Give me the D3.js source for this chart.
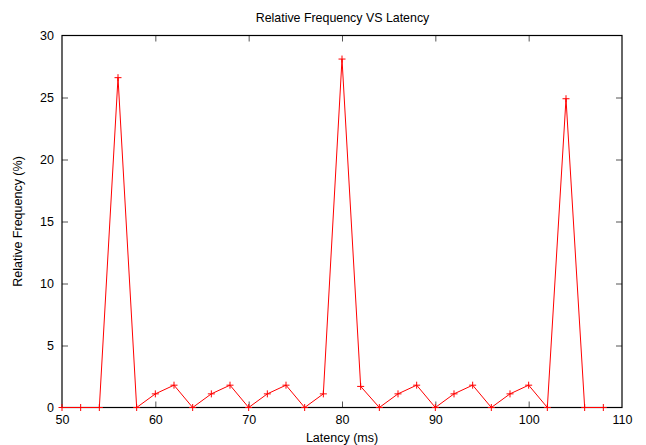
<!DOCTYPE html>
<html>
<head>
<meta charset="utf-8">
<script src="https://cdn.jsdelivr.net/npm/d3@7"></script>
<style>
  html, body { margin: 0; padding: 0; background: #fff; }
  svg text { font-family: "Liberation Sans", Arial, sans-serif; fill: #000; }
</style>
</head>
<body>
<svg id="chart" width="646" height="445"></svg>
<script>
// Latency bins (ms) and their relative frequency (%)
const latency = [50, 52, 54, 56, 58, 60, 62, 64, 66, 68, 70, 72, 74, 76, 78,
                 80, 82, 84, 86, 88, 90, 92, 94, 96, 98, 100, 102, 104, 106, 108];
const frequency = [0, 0, 0, 26.6, 0, 1.1, 1.8, 0, 1.1, 1.8, 0, 1.1, 1.8, 0, 1.1,
                   28.1, 1.7, 0, 1.1, 1.8, 0, 1.1, 1.8, 0, 1.1, 1.8, 0, 24.9, 0, 0];
const xTicks = [50, 60, 70, 80, 90, 100, 110];
const yTicks = [0, 5, 10, 15, 20, 25, 30];

const titleText = "Relative Frequency VS Latency";
const xLabel = "Latency (ms)";
const yLabel = "Relative Frequency (%)";

const svg = d3.select("#chart");
const plotL = 62, plotR = 622, plotT = 35.5, plotB = 407.5;

const x = d3.scaleLinear().domain([50, 110]).range([plotL, plotR]);
const y = d3.scaleLinear().domain([0, 30]).range([plotB, plotT]);

const tickLen = 6;

// Axes: ticks point inward, mirrored on the opposite side
const gBottom = svg.append("g").attr("transform", `translate(0,${plotB})`)
  .call(d3.axisBottom(x).tickValues(xTicks).tickSizeInner(-tickLen).tickSizeOuter(0).tickPadding(10));
const gTop = svg.append("g").attr("transform", `translate(0,${plotT})`)
  .call(d3.axisTop(x).tickValues(xTicks).tickSizeInner(-tickLen).tickSizeOuter(0).tickFormat(""));
const gLeft = svg.append("g").attr("transform", `translate(${plotL},0)`)
  .call(d3.axisLeft(y).tickValues(yTicks).tickSizeInner(-tickLen).tickSizeOuter(0).tickPadding(10));
const gRight = svg.append("g").attr("transform", `translate(${plotR},0)`)
  .call(d3.axisRight(y).tickValues(yTicks).tickSizeInner(-tickLen).tickSizeOuter(0).tickFormat(""));

[gBottom, gTop, gLeft, gRight].forEach(g => {
  g.select(".domain").remove();
  g.selectAll(".tick line").attr("stroke", "#555").attr("stroke-width", 1);
  g.selectAll(".tick text").attr("font-size", 12.5).attr("fill", "#000");
});
gBottom.selectAll(".tick text").attr("dy", "0.71em").attr("y", 8);
gLeft.selectAll(".tick text").attr("x", -8);
// Remove ticks sitting on the frame corners
[gBottom, gTop].forEach(g => g.selectAll(".tick line").filter(d => d === 50 || d === 110).remove());
[gLeft, gRight].forEach(g => g.selectAll(".tick line").filter(d => d === 0 || d === 30).remove());

// Plot frame
svg.append("rect")
  .attr("x", plotL).attr("y", plotT)
  .attr("width", plotR - plotL).attr("height", plotB - plotT)
  .attr("fill", "none").attr("stroke", "#000").attr("stroke-width", 1.2);

// Data line
const pts = latency.map((v, i) => [v, frequency[i]]);
svg.append("path")
  .datum(pts)
  .attr("fill", "none")
  .attr("stroke", "#ff0000")
  .attr("stroke-width", 1)
  .attr("d", d3.line().x(d => x(d[0])).y(d => y(d[1])));

// Point markers (+)
const m = 3.5;
const marks = svg.append("g").attr("stroke", "#ff0000").attr("stroke-width", 1);
marks.selectAll("path.pt").data(pts).join("path")
  .attr("class", "pt")
  .attr("d", d => {
    const cx = x(d[0]), cy = y(d[1]);
    return `M${cx - m},${cy}H${cx + m}M${cx},${cy - m}V${cy + m}`;
  });

// Titles
svg.append("text").attr("x", (plotL + plotR) / 2 + 0.5).attr("y", 22.3)
  .attr("text-anchor", "middle").attr("font-size", 12.4).text(titleText);
svg.append("text").attr("x", (plotL + plotR) / 2).attr("y", 441.5)
  .attr("text-anchor", "middle").attr("font-size", 12.5).text(xLabel);
svg.append("text")
  .attr("transform", `translate(22,${(plotT + plotB) / 2}) rotate(-90)`)
  .attr("text-anchor", "middle").attr("font-size", 12.5).text(yLabel);
</script>
</body>
</html>
